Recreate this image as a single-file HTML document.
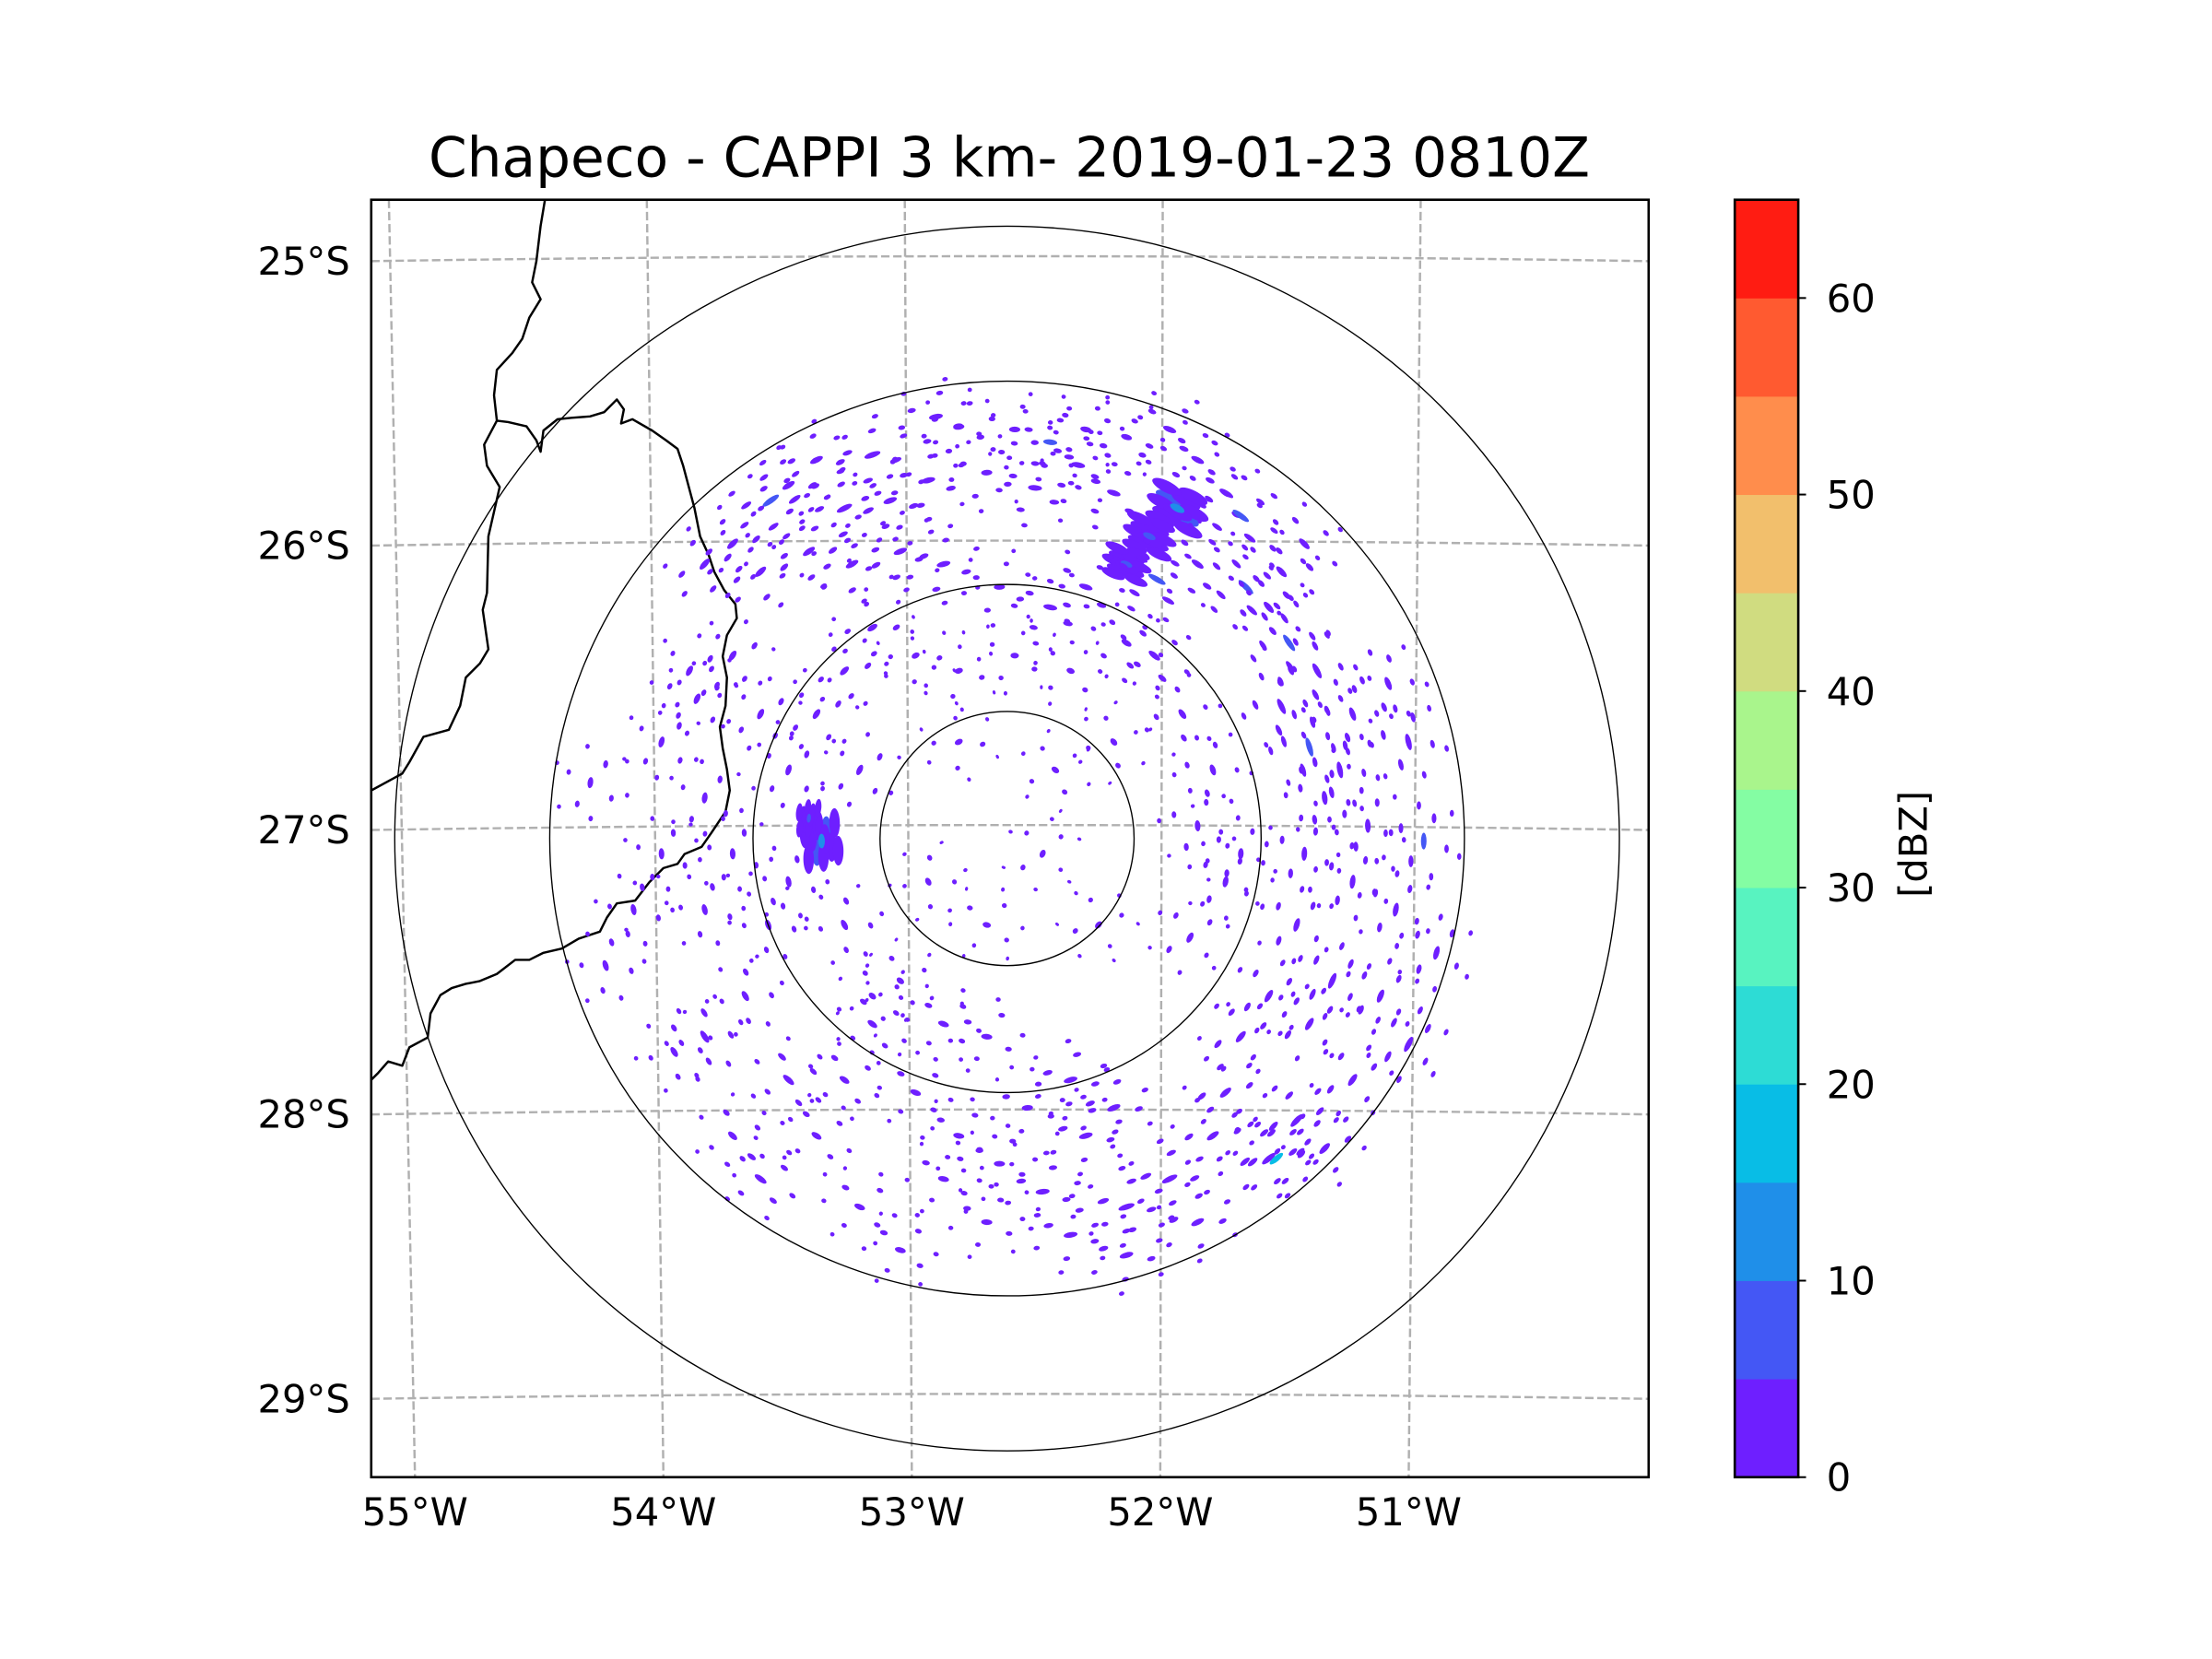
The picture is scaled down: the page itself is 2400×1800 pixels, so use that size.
<!DOCTYPE html>
<html><head><meta charset="utf-8"><title>Chapeco CAPPI</title>
<style>html,body{margin:0;padding:0;background:#fff}svg{display:block}</style></head>
<body>
<svg id="chart" xmlns="http://www.w3.org/2000/svg" width="2400" height="1800" viewBox="0 0 1567.1 1175.3" font-family="'DejaVu Sans','Liberation Sans',sans-serif">
<rect width="1567.1" height="1175.3" fill="#fff"/>
<text x="715" y="125" font-size="39" text-anchor="middle">Chapeco - CAPPI 3 km- 2019-01-23 0810Z</text>
<defs><clipPath id="clipMap"><rect x="263" y="141.5" width="905" height="905"/></clipPath></defs>
<g id="grid" clip-path="url(#clipMap)"></g>
<g id="borders" clip-path="url(#clipMap)" fill="none" stroke="#000" stroke-width="1.6" stroke-linejoin="round">
<path d="M386,142 L383,160 L380,185 L377,200 L383,212 L375,225 L370,240 L363,250 L352,262 L350,280 L352,298 L343,315 L345,330 L354,345 L346,380 L345,420 L342,432 L346,460 L340,470 L330,480 L326,500 L318,517 L300,522 L290,540 L285,548 L263,560"/>
<path d="M352,298 L360,299 L373,302 L380,312 L383,320 L385,305 L395,297 L405,296 L418,295 L428,292 L437,283 L442,290 L440,300 L448,297 L462,305 L472,312 L480,318 L484,330 L488,345 L492,360 L496,380 L502,393 L506,405 L513,418 L521,428 L522,438 L515,450 L512,465 L515,480 L514,500 L510,515 L512,530 L515,545 L517,560 L514,575 L504,590 L497,600 L485,605 L480,612 L470,615 L460,625 L450,638 L437,640 L430,650 L425,660 L410,665 L398,672 L385,675 L375,680 L365,680 L352,690 L340,695 L330,697 L320,700 L312,705 L305,718 L303,735 L290,742 L285,755 L275,752 L268,760 L263,765"/>
</g>
<g id="echoes" clip-path="url(#clipMap)"></g>
<g id="rings" fill="none" stroke="#000" stroke-width="0.9"></g>
<rect x="263" y="141.5" width="905" height="905" fill="none" stroke="#000" stroke-width="1.7"/>
<g id="lat-labels" font-size="27.2" text-anchor="end"></g>
<g id="lon-labels" font-size="27.2" text-anchor="middle"></g>
<g id="colorbar"></g>
<text transform="translate(1365,598) rotate(-90)" font-size="27.2" text-anchor="middle">[dBZ]</text>
</svg>
<script>
const latTicks = [-25, -26, -27, -28, -29];
const lonTicks = [-55, -54, -53, -52, -51];
const latTickLabels = ["25°S", "26°S", "27°S", "28°S", "29°S"];
const lonTickLabels = ["55°W", "54°W", "53°W", "52°W", "51°W"];
const ringRangesKm = [50, 100, 180, 241];
const cbarLevels = [0,5,10,15,20,25,30,35,40,45,50,55,60,65];
const cbarColors = ["#6e1fff","#4457f5","#1f8fe9","#08bde6","#2ddcd5","#58f3c0","#84fda3","#a9f58c","#d0dc80","#f2bf6c","#ff8d4c","#ff5a30","#ff1c12"];
const cbarTicks = [0,10,20,30,40,50,60];
// echo cells: km east / km north of radar, reflectivity dBZ, extent km
const echoEast  = [-28,-19,3,17,31,47,64,-53,-75,-93,-86,-64,-46,-31,-8,11,28,42,75,86,92,67,56,47,-108,-119,-97,-78,-61,-42,-25,-3,17,31,59,75,94,103,117,108,111,122,108,119,131,136,150,158,125,142,164,117,136,153,114,128,147,169,158,119,136,103,92,86,114,103,125,81,69,81,75,86,72,58,47,92,64,47,31,14,-3,-19,-36,-25,-8,25,42,25,-8,-42,-58,-75,-86,-64,-53,-97,-108,-119,-103,-131,75,47,-25,8,106,-73,-78,-86,-94,-86,-97,-108,-125,-136,-119,-136,-147,-158,-164,-119,-108,-122,-64,-53,-75,-58,-64,-53,-19,19,-8,14,-31,25,-19,3,-36,42,36,-42];
const echoNorth = [166,162,161,156,161,158,161,151,149,133,139,130,133,141,144,138,147,136,149,136,127,130,119,108,116,108,105,113,108,113,108,99,91,99,102,108,99,91,116,105,77,66,52,36,27,49,61,38,16,5,-1,-6,-17,-28,-34,-56,-62,-45,-81,-73,-95,-62,-78,-100,-111,-126,-122,-117,49,27,5,-17,-39,72,77,-6,-134,-145,-117,-139,-128,-117,-100,-73,-78,-95,-106,-156,-151,-162,-145,-117,-95,-95,-73,-134,-117,-78,-62,-84,-151,-164,-134,-106,-126,-1,8,-17,-34,27,49,72,66,38,16,-6,-28,-50,22,-28,-6,55,66,83,49,27,-34,-62,38,27,-34,-6,-17,66,66,72,72,38,-34,-56];
const echoDbz   = [2,2,2,7,2,2,2,2,2,7,2,2,2,2,2,2,2,2,2,2,7,17,12,8,2,2,2,2,2,2,2,2,2,2,7,2,7,2,2,2,7,2,2,7,2,2,2,2,2,2,7,2,2,2,2,2,2,2,2,2,2,2,2,2,2,2,2,2,2,2,2,2,2,2,2,2,2,2,2,2,2,2,2,2,2,2,2,2,2,2,2,2,2,2,2,2,2,2,2,2,2,2,2,2,15,17,8,2,2,2,2,2,2,2,2,2,2,2,2,2,2,2,2,2,2,2,2,2,2,2,2,2,2,2,2,2,2,2,2,2,2,2];
const echoSize  = [5,4,4,5,4,4,5,6,5,7,5,6,5,5,4,5,5,5,5,5,7,14,12,11,5,5,5,5,5,5,5,4,5,5,7,5,7,5,5,5,7,6,6,7,6,5,5,6,5,5,6,5,5,5,5,6,5,5,6,5,5,5,5,5,6,6,5,5,4,4,4,4,4,5,4,4,6,6,5,5,4,4,4,4,4,5,5,5,4,4,4,4,5,4,4,5,4,5,4,4,5,5,4,4,6,13,8,4,4,4,4,4,4,4,4,4,4,4,4,4,4,4,4,4,4,4,4,3,3,3,3,3,3,3,3,3,3,3,3,3,3];

const NS = "http://www.w3.org/2000/svg";
const RADAR = {lon: -52.61, lat: -27.03};
const PX_PER_KM = 1.8;
function yOfLat(lat){ return 588 + (-27 - lat) * 201.5; }
function xOfLon(lon, y){
  const top = 641 + (lon + 53) * 182.75, bot = 646 + (lon + 53) * 176;
  const t = (y - 141.5) / 905;
  return top + (bot - top) * t;
}
const cy = yOfLat(RADAR.lat), cx = xOfLon(RADAR.lon, cy);
function kmX(e){ return cx + e * PX_PER_KM; }
function kmY(n){ return cy - n * PX_PER_KM; }
function colorOf(v){ let i = 0; while (i < cbarColors.length-1 && v >= cbarLevels[i+1]) i++; return cbarColors[i]; }

const grid = document.getElementById('grid');
lonTicks.forEach((lon) => {
  const p = document.createElementNS(NS,'path');
  p.setAttribute('d', `M${xOfLon(lon,141.5)},141.5 L${xOfLon(lon,1046.5)},1046.5`);
  p.setAttribute('stroke','#b0b0b0'); p.setAttribute('stroke-width','1.6'); p.setAttribute('stroke-dasharray','6,2.6'); p.setAttribute('fill','none');
  
  
  grid.appendChild(p);
});
latTicks.forEach((lat) => {
  const y = yOfLat(lat);
  const p = document.createElementNS(NS,'path');
  p.setAttribute('d', `M263,${y} Q715,${y-7} 1168,${y}`);
  p.setAttribute('stroke','#b0b0b0'); p.setAttribute('stroke-width','1.6'); p.setAttribute('stroke-dasharray','6,2.6'); p.setAttribute('fill','none');
  
  
  grid.appendChild(p);
});

const latG = document.getElementById('lat-labels');
latTicks.forEach((lat, i) => {
  const t = document.createElementNS(NS,'text');
  t.setAttribute('x', 248); t.setAttribute('y', yOfLat(lat) + 9.5);
  t.textContent = latTickLabels[i];
  
  
  latG.appendChild(t);
});
const lonG = document.getElementById('lon-labels');
lonTicks.forEach((lon, i) => {
  const t = document.createElementNS(NS,'text');
  t.setAttribute('x', xOfLon(lon,1046.5)); t.setAttribute('y', 1080.5);
  t.textContent = lonTickLabels[i];
  
  
  lonG.appendChild(t);
});

const ringsG = document.getElementById('rings');
ringRangesKm.forEach(r => {
  const c = document.createElementNS(NS,'circle');
  c.setAttribute('cx', cx); c.setAttribute('cy', cy); c.setAttribute('r', r * PX_PER_KM);
  
  
  ringsG.appendChild(c);
});

const echoG = document.getElementById('echoes');
const speck = [[0,0,1.0],[-9,4,0.6],[8,-5,0.7],[3,9,0.5],[-5,-9,0.6],[14,3,0.45],[-14,-2,0.5],[6,14,0.4],[-3,-15,0.45],[11,-12,0.35],[-11,11,0.4]];
const stormPat = [[0,0],[-0.5,0.3],[0.5,-0.3],[0.2,0.6],[-0.3,-0.6],[0.8,0.2],[-0.8,-0.1],[0.4,1.0],[-0.5,-1.0],[0.9,-0.8],[-0.9,0.8],[0.1,-0.2]];
echoEast.forEach((e, i) => {
  const n = echoNorth[i], s = echoSize[i];
  const r = Math.hypot(e, n) || 1;
  const te = n / r, tn = -e / r;
  const re = e / r, rn = n / r;
  const ang = Math.atan2(-tn, te) * 180 / Math.PI;
  const big = s >= 8;
  if (!big) {
    speck.forEach((o, k) => {
      const el = document.createElementNS(NS,'ellipse');
      const de = o[0]*te + o[1]*re, dn = o[0]*tn + o[1]*rn;
      const ex = kmX(e + de), ey = kmY(n + dn);
      el.setAttribute('cx', ex); el.setAttribute('cy', ey);
      el.setAttribute('rx', s * PX_PER_KM * 0.55 * o[2]);
      el.setAttribute('ry', 1.1 * PX_PER_KM * (0.6 + 0.4*o[2]));
      el.setAttribute('transform', `rotate(${ang} ${ex} ${ey})`);
      el.setAttribute('fill', k === 0 ? colorOf(echoDbz[i]) : cbarColors[0]);
      
      
      echoG.appendChild(el);
    });
  } else {
    stormPat.forEach((o, k) => {
      const el = document.createElementNS(NS,'ellipse');
      const de = o[0]*s*0.6*te + o[1]*s*0.5*re, dn = o[0]*s*0.6*tn + o[1]*s*0.5*rn;
      const ex = kmX(e + de), ey = kmY(n + dn);
      el.setAttribute('cx', ex); el.setAttribute('cy', ey);
      el.setAttribute('rx', s * PX_PER_KM * 0.45);
      el.setAttribute('ry', s * PX_PER_KM * 0.16);
      el.setAttribute('transform', `rotate(${ang} ${ex} ${ey})`);
      el.setAttribute('fill', k < 3 ? colorOf(echoDbz[i]-8) : cbarColors[0]);
      
      
      echoG.appendChild(el);
    });
    const c = document.createElementNS(NS,'ellipse');
    c.setAttribute('cx', kmX(e)); c.setAttribute('cy', kmY(n));
    c.setAttribute('rx', s*0.22*PX_PER_KM); c.setAttribute('ry', s*0.1*PX_PER_KM);
    c.setAttribute('transform', `rotate(${ang} ${kmX(e)} ${kmY(n)})`);
    c.setAttribute('fill', colorOf(echoDbz[i]-3));
    
    
    echoG.appendChild(c);
  }
});

const cb = document.getElementById('colorbar');
const cbTop = 141.5, cbBot = 1046.5, cbL = 1229, cbR = 1274;
function cbY(v){ return cbBot - (v - cbarLevels[0]) / (cbarLevels[cbarLevels.length-1] - cbarLevels[0]) * (cbBot - cbTop); }
cbarColors.forEach((col, i) => {
  const r = document.createElementNS(NS,'rect');
  const y1 = cbY(cbarLevels[i+1]), y0 = cbY(cbarLevels[i]);
  r.setAttribute('x', cbL); r.setAttribute('y', y1); r.setAttribute('width', cbR-cbL); r.setAttribute('height', y0-y1+0.3);
  r.setAttribute('fill', col);
  
  
  cb.appendChild(r);
});
const frame = document.createElementNS(NS,'rect');
frame.setAttribute('x', cbL); frame.setAttribute('y', cbTop); frame.setAttribute('width', cbR-cbL); frame.setAttribute('height', cbBot-cbTop);
frame.setAttribute('fill','none'); frame.setAttribute('stroke','#000'); frame.setAttribute('stroke-width','1.7');


cb.appendChild(frame);
cbarTicks.forEach(v => {
  const y = cbY(v);
  const l = document.createElementNS(NS,'line');
  l.setAttribute('x1', cbR); l.setAttribute('x2', cbR+5.5); l.setAttribute('y1', y); l.setAttribute('y2', y);
  l.setAttribute('stroke','#000'); l.setAttribute('stroke-width','1.3');
  
  
  cb.appendChild(l);
  const t = document.createElementNS(NS,'text');
  t.setAttribute('x', 1294); t.setAttribute('y', y + 9.8); t.setAttribute('font-size','27.2');
  t.textContent = String(v);
  
  
  cb.appendChild(t);
});
</script>
</body></html>
